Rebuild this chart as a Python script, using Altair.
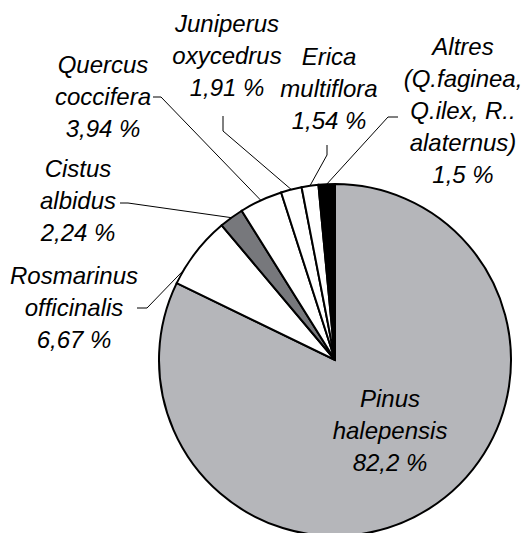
import altair as alt
import pandas as pd
import numpy as np

# ---- data ----
species = ["Pinus halepensis", "Rosmarinus officinalis", "Cistus albidus",
           "Quercus coccifera", "Juniperus oxycedrus", "Erica multiflora",
           "Altres (Q.faginea, Q.ilex, R.. alaternus)"]
shares = [82.2, 6.67, 2.24, 3.94, 1.91, 1.54, 1.5]
share_text = ["82,2 %", "6,67 %", "2,24 %", "3,94 %", "1,91 %", "1,54 %", "1,5 %"]
name_lines = [["Pinus", "halepensis"], ["Rosmarinus", "officinalis"],
              ["Cistus", "albidus"], ["Quercus", "coccifera"],
              ["Juniperus", "oxycedrus"], ["Erica", "multiflora"],
              ["Altres", "(Q.faginea,", "Q.ilex, R..", "alaternus)"]]

# ---- styles / layout ----
fills = ["#b5b6ba", "#ffffff", "#77787c", "#ffffff", "#ffffff", "#ffffff", "#000000"]
CX, CY, R = 327, 352, 176
LINE_H = 32
OFF = 8
label_anchor = [(390, 400), (74, 277), (78, 170), (103, 66), (227, 25), (329, 58), (463, 48)]
leader_pts = [None, [(137, 308), (147, 308)], [(120, 203), (128, 203)],
              [(153, 97), (161, 97)], [(223, 116), (223, 131)],
              [(327, 145), (327, 155)], [(398, 117), (388, 117)]]
anchor_frac = [0.5, 0.2, 0.5, 0.5, 0.5, 0.5, 0.5]

pie_df = pd.DataFrame({"species": species, "share": shares, "idx": list(range(len(species)))})

# label text rows
rows = []
for i, sp in enumerate(species):
    lines = name_lines[i] + [share_text[i]]
    ax, ay = label_anchor[i]
    for j, ln in enumerate(lines):
        rows.append({"species": sp, "line": ln, "x": ax - OFF, "y": ay - OFF + j * LINE_H})
text_df = pd.DataFrame(rows)

# leader lines: end on the pie edge inside each slice
cum = np.concatenate([[0], np.cumsum(shares)[:-1]])
lrows = []
for i, sp in enumerate(species):
    if leader_pts[i] is None:
        continue
    th = 2 * np.pi * (cum[i] + anchor_frac[i] * shares[i]) / sum(shares)
    pts = [(px - OFF, py - OFF) for px, py in leader_pts[i]]
    pts.append((CX + R * np.sin(th), CY - R * np.cos(th)))
    for k, (px, py) in enumerate(pts):
        lrows.append({"species": sp, "seq": k, "x": px, "y": py})
lead_df = pd.DataFrame(lrows)

pie = alt.Chart(pie_df).mark_arc(outerRadius=R, stroke="black", strokeWidth=2).encode(
    theta=alt.Theta("share:Q", stack=True),
    order=alt.Order("idx:Q"),
    color=alt.Color("species:N", scale=alt.Scale(domain=species, range=fills), legend=None),
    x=alt.value(CX), y=alt.value(CY),
)

leaders = alt.Chart(lead_df).mark_line(color="black", strokeWidth=1).encode(
    x=alt.X("x:Q", scale=None, axis=None),
    y=alt.Y("y:Q", scale=None, axis=None),
    detail="species:N",
    order="seq:Q",
)

labels = alt.Chart(text_df).mark_text(font="Liberation Sans", fontStyle="italic", fontSize=24,
                                       align="center", baseline="middle", color="black").encode(
    x=alt.X("x:Q", scale=None, axis=None),
    y=alt.Y("y:Q", scale=None, axis=None),
    text="line:N",
)

chart = alt.layer(pie, leaders, labels).properties(
    width=513, height=525, padding=0,
    autosize=alt.AutoSizeParams(type="none"),
    background="white",
).configure_view(stroke=None)

chart.save("out.html", embed_options={"renderer": "svg", "actions": False})
